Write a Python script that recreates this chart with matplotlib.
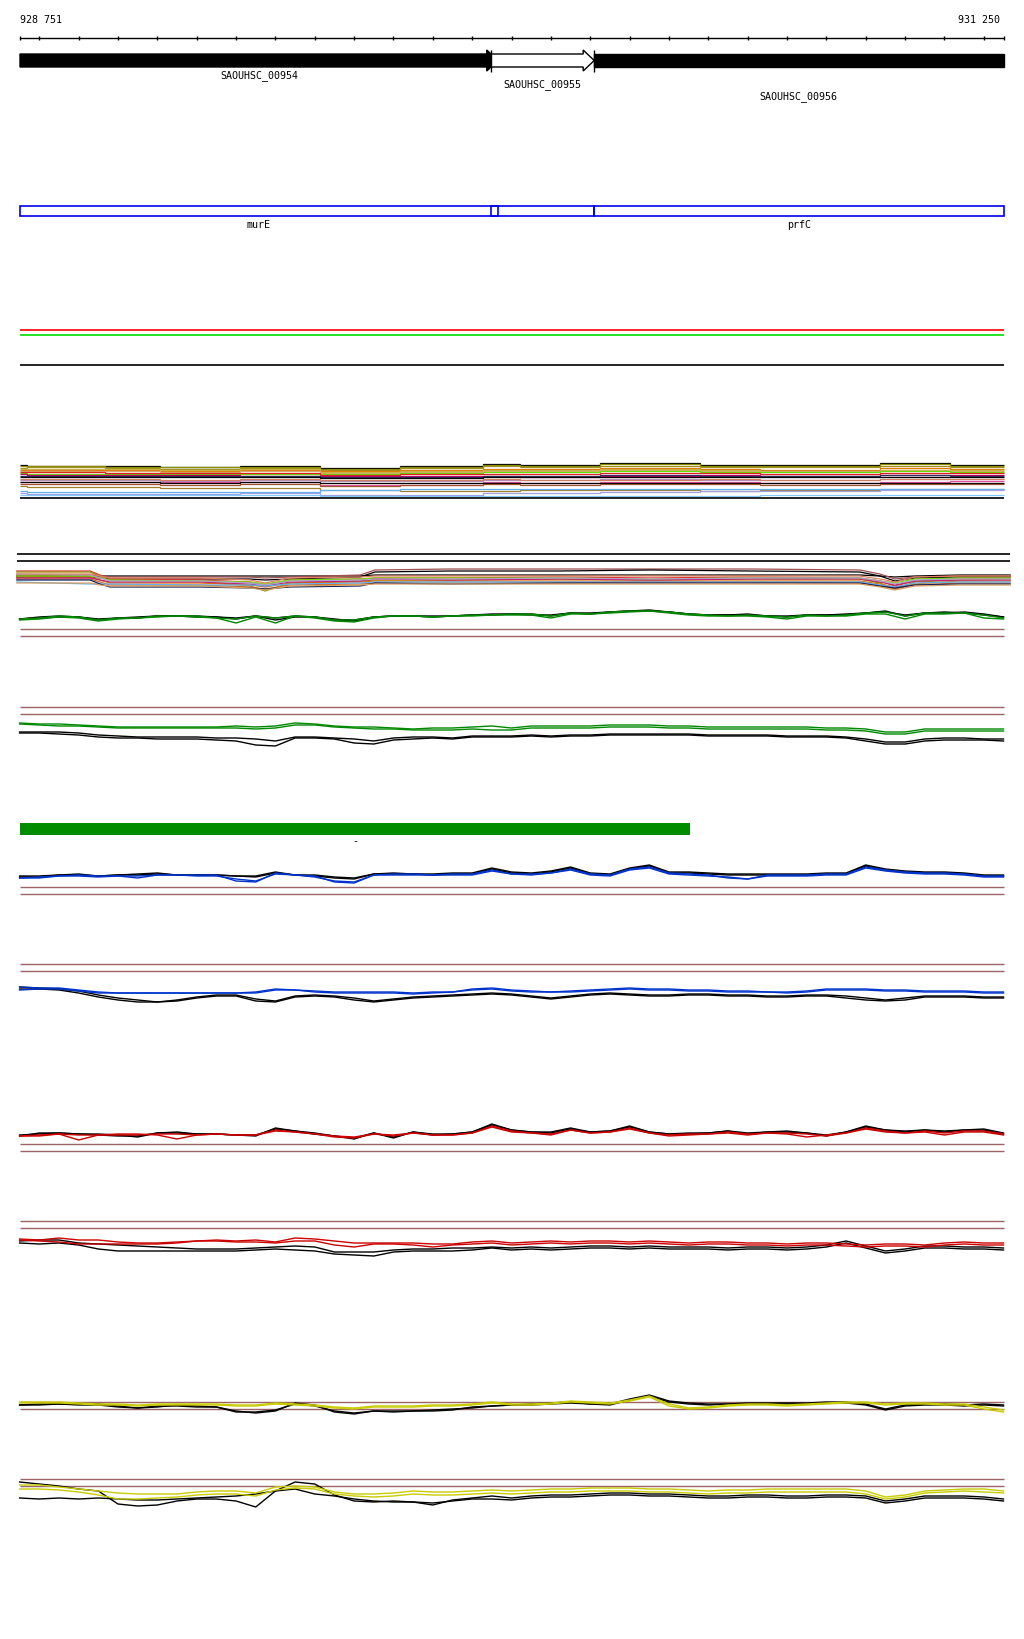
import numpy as np
import matplotlib.pyplot as plt
from matplotlib.patches import Polygon, Rectangle

# visible region
START, END = 928751, 931250

# genes (first starts and last ends outside the window)
gene_names = ['SAOUHSC_00954', 'SAOUHSC_00955', 'SAOUHSC_00956']
gene_starts = [928300, 929948, 930210]
gene_ends = [929965, 930210, 931900]
gene_filled = [True, False, True]
product_names = ['murE', '', 'prfC']

# feature bar
feat_start, feat_end = 928751, 930453
feat_label = '-'

# coverage grid, every 50 bp
pos = np.arange(928750, 931251, 50)

# wiggle tracks: values are pixel heights
c_green1 = [620,619,617,618,621,619,619,617,617,617,619,620,617,619,617,618,621,621,618,617,617,618,617,616,616,
            615,615,617,614,615,613,612,612,613,615,616,617,616,617,618,616,617,616,614,613,617,614,614,614,616,619]
c_green2 = [621,620,618,619,622,620,619,618,617,618,619,624,618,624,617,619,622,623,619,617,617,618,617,617,616,
            616,616,619,615,615,614,613,612,614,616,617,617,617,618,620,617,617,617,615,615,620,615,615,614,619,620]
c_black1 = [620,618,617,618,620,619,619,617,617,617,618,619,617,619,617,618,621,621,618,617,617,618,617,616,616,
            615,615,617,614,615,613,612,611,613,615,616,616,615,617,618,616,616,616,614,612,617,614,614,613,615,618]
c_black2 = [620,619,618,618,621,619,618,617,617,618,618,620,617,621,618,618,620,622,618,617,617,617,617,616,615,
            615,616,616,614,614,613,612,612,613,615,616,616,616,617,617,616,616,615,614,613,616,614,613,614,616,618]

d_green1 = [724,725,725,726,727,728,728,728,728,728,728,727,728,727,724,725,727,728,728,729,730,729,729,728,727,729,
            727,727,727,727,726,726,726,727,727,728,728,728,728,728,728,729,729,730,733,733,730,730,730,730,730]
d_green2 = [725,726,727,727,728,729,729,729,729,729,729,729,730,729,726,726,728,729,730,730,731,731,731,730,731,731,
            729,729,729,729,728,728,728,729,729,730,730,730,730,730,730,731,731,732,735,735,732,732,732,732,732]
d_black1 = [733,733,733,734,736,737,738,738,738,738,739,739,740,742,738,738,739,740,742,739,738,738,739,737,737,737,
            736,737,736,736,735,735,735,735,735,736,736,736,736,737,737,737,738,740,743,743,740,739,739,740,740]
d_black2 = [734,734,735,736,738,739,739,740,740,740,741,742,746,747,739,739,740,744,745,741,740,739,740,738,738,738,
            737,738,737,737,736,736,736,736,736,737,737,737,737,738,738,738,739,742,745,745,742,741,741,741,742]

e_blue1 = [879,878,877,877,878,877,879,876,876,877,877,880,882,875,876,878,882,883,876,876,876,876,876,876,872,
           875,876,874,871,876,877,871,869,875,876,877,878,880,877,877,877,876,876,869,872,874,875,875,876,878,878]
e_blue2 = [879,879,877,876,877,877,877,876,876,876,876,882,883,874,876,877,883,884,876,875,875,876,875,875,871,
           875,875,874,870,875,876,870,868,874,875,876,879,880,876,876,876,875,875,868,871,873,874,874,875,877,877]
e_black1 = [878,878,876,876,877,876,876,875,876,876,876,877,878,874,876,877,879,880,875,875,875,876,875,875,870,
            874,875,873,869,875,876,870,867,874,874,875,876,876,876,876,876,875,875,867,871,873,874,874,875,877,877]
e_black2 = [877,877,876,875,877,876,875,874,876,876,876,877,877,873,876,876,878,879,875,874,875,875,874,874,869,
            873,874,872,868,874,875,869,866,873,873,874,875,875,875,875,875,874,874,866,870,872,873,873,874,876,876]

f_blue1 = [988,989,989,991,993,994,994,994,994,994,994,994,993,990,991,992,993,993,993,993,994,993,993,990,989,991,
           992,993,992,991,990,989,990,990,991,991,992,992,993,993,992,990,990,990,991,991,992,992,992,993,993]
f_blue2 = [991,990,990,992,994,994,994,994,994,994,994,994,994,991,991,993,994,994,994,994,995,994,993,991,990,992,
           993,993,993,992,991,990,991,991,992,992,993,993,993,994,993,991,991,991,992,992,993,993,993,994,994]
f_black1 = [988,989,990,992,996,999,1001,1003,1001,998,996,996,1000,1002,997,996,997,999,1002,1000,998,997,996,995,994,995,
            997,999,997,995,994,995,996,996,995,995,996,996,997,997,996,996,997,999,1001,999,997,997,997,998,998]
f_black2 = [990,990,991,994,998,1001,1003,1003,1002,999,997,997,1002,1003,998,997,998,1001,1003,1001,999,998,997,996,995,996,
            998,1000,998,996,995,996,997,997,996,996,997,997,998,998,997,997,999,1001,1002,1001,998,998,998,999,999]

g_red1 = [1137,1136,1135,1136,1136,1136,1136,1135,1135,1136,1135,1136,1136,1131,1133,1135,1137,1138,1135,1137,1134,1136,1136,1134,1127,
          1132,1134,1135,1131,1134,1133,1129,1134,1136,1135,1135,1133,1135,1134,1134,1135,1137,1134,1129,1132,1134,1132,1134,1132,1132,1135]
g_red2 = [1137,1137,1135,1141,1136,1135,1135,1136,1140,1136,1135,1136,1136,1132,1133,1135,1138,1139,1135,1136,1134,1136,1136,1134,1128,
          1133,1134,1136,1131,1134,1133,1130,1134,1137,1136,1135,1134,1136,1134,1135,1138,1136,1134,1130,1133,1134,1133,1136,1133,1133,1136]
g_black1 = [1136,1135,1134,1135,1136,1137,1137,1134,1133,1135,1135,1136,1136,1130,1132,1134,1137,1140,1134,1139,1133,1136,1135,1133,1126,
            1131,1133,1134,1130,1133,1132,1128,1133,1135,1134,1134,1132,1134,1133,1132,1134,1137,1133,1128,1131,1133,1131,1133,1131,1130,1134]
g_black2 = [1137,1134,1134,1135,1135,1136,1138,1134,1134,1135,1135,1136,1137,1129,1132,1135,1137,1139,1134,1138,1133,1135,1135,1133,1125,
            1131,1133,1133,1129,1133,1132,1127,1133,1135,1135,1134,1132,1135,1133,1133,1134,1136,1133,1127,1131,1132,1131,1132,1131,1131,1135]

h_red1 = [1240,1241,1239,1241,1241,1243,1244,1244,1243,1242,1241,1242,1241,1243,1239,1240,1242,1244,1244,1244,1244,1245,1245,1243,1242,1244,
          1243,1242,1243,1242,1242,1243,1242,1243,1244,1243,1243,1244,1244,1245,1244,1244,1245,1246,1245,1245,1246,1244,1243,1244,1244]
h_red2 = [1241,1242,1243,1245,1245,1245,1245,1245,1244,1242,1242,1243,1243,1244,1242,1242,1246,1248,1245,1245,1246,1248,1246,1245,1244,1246,
          1245,1244,1245,1244,1244,1245,1244,1245,1246,1245,1245,1246,1246,1247,1246,1246,1247,1248,1247,1247,1248,1246,1245,1246,1246]
h_black1 = [1242,1241,1241,1244,1245,1246,1247,1248,1249,1250,1250,1250,1249,1248,1247,1248,1253,1253,1253,1251,1250,1250,1249,1249,1248,1249,
            1248,1249,1248,1247,1247,1248,1247,1248,1248,1248,1249,1248,1248,1249,1248,1246,1242,1247,1252,1250,1247,1247,1248,1248,1249]
h_black2 = [1244,1245,1244,1246,1250,1252,1252,1252,1252,1252,1252,1252,1251,1250,1251,1252,1255,1256,1257,1253,1252,1252,1252,1251,1249,1251,
            1250,1251,1250,1249,1249,1250,1249,1250,1250,1250,1251,1250,1250,1251,1250,1248,1244,1249,1254,1252,1249,1249,1250,1250,1251]

i_yel1 = [1403,1403,1403,1404,1405,1405,1406,1405,1405,1405,1405,1406,1406,1404,1405,1406,1408,1409,1407,1407,1407,1406,1406,1405,1403,
          1405,1405,1404,1402,1403,1404,1401,1397,1405,1409,1408,1406,1405,1405,1406,1405,1404,1403,1403,1405,1404,1404,1405,1405,1408,1411]
i_yel2 = [1404,1404,1404,1405,1406,1406,1407,1406,1406,1406,1406,1407,1407,1405,1406,1407,1409,1410,1408,1408,1408,1407,1407,1406,1404,
          1406,1406,1405,1403,1404,1405,1402,1398,1407,1410,1409,1407,1406,1406,1407,1406,1405,1404,1404,1406,1405,1405,1406,1406,1410,1413]
i_black1 = [1406,1405,1405,1405,1405,1407,1409,1408,1406,1407,1408,1412,1414,1412,1404,1406,1413,1415,1412,1412,1412,1412,1411,1408,1407,
            1406,1405,1404,1403,1405,1405,1400,1396,1402,1404,1405,1405,1404,1404,1404,1404,1403,1403,1405,1410,1406,1405,1405,1406,1405,1406]
i_black2 = [1406,1406,1405,1406,1406,1408,1409,1407,1407,1408,1408,1413,1413,1411,1405,1407,1412,1414,1412,1413,1412,1411,1410,1409,1407,
            1406,1406,1405,1404,1405,1406,1401,1397,1403,1405,1406,1405,1405,1405,1405,1405,1404,1404,1406,1411,1407,1406,1406,1407,1406,1407]

j_yel1 = [1486,1486,1488,1490,1492,1494,1495,1495,1495,1493,1492,1492,1494,1488,1487,1488,1493,1495,1495,1494,1492,1493,1493,1492,1491,1492,
          1491,1490,1490,1489,1489,1489,1490,1490,1491,1492,1491,1491,1490,1490,1490,1490,1490,1492,1498,1496,1492,1491,1490,1490,1492]
j_yel2 = [1490,1490,1491,1493,1496,1500,1500,1499,1498,1496,1495,1495,1497,1491,1489,1490,1495,1497,1498,1497,1495,1496,1496,1495,1494,1495,
          1494,1493,1493,1492,1492,1492,1493,1493,1494,1495,1494,1494,1493,1493,1493,1493,1493,1495,1500,1498,1494,1493,1492,1493,1494]
j_black1 = [1483,1485,1487,1490,1492,1505,1507,1506,1502,1500,1500,1502,1508,1492,1483,1485,1496,1502,1503,1502,1503,1506,1501,1499,1497,1499,
            1497,1496,1496,1495,1494,1494,1495,1495,1496,1497,1497,1496,1496,1497,1497,1496,1496,1497,1502,1500,1497,1497,1497,1498,1500]
j_black2 = [1499,1500,1499,1500,1499,1500,1501,1501,1500,1499,1498,1497,1495,1492,1490,1495,1497,1500,1502,1503,1503,1504,1502,1500,1500,1501,
            1499,1498,1498,1497,1496,1496,1497,1497,1498,1499,1499,1498,1498,1499,1499,1498,1498,1499,1504,1502,1499,1499,1499,1500,1502]

# band of many samples, step levels between breakpoints
band_a_breaks = [928751, 928769, 928967, 929107, 929310, 929513, 929717, 929927,
                 930021, 930225, 930479, 930631, 930936, 931114, 931250]
band_a_colors = ['black', '#8c8c00', '#a09020', '#e07800', '#c8b040', '#d8a870', '#60e000',
                 '#e02020', '#c00060', '#303060', 'black', '#b090c0', '#d08060', '#e050a0',
                 'black', '#a0522d', '#a08030', '#60b0f0', '#a0a0e0', '#80c8ff']
band_a_levels = [
    [466,467,467,468,467,469,467,465,466,464,466,466,464,466],
    [467,467,468,468,468,470,468,466,467,465,467,467,465,467],
    [469,468,469,470,469,471,469,467,468,467,468,468,467,468],
    [471,471,471,472,471,472,471,470,470,469,470,471,469,470],
    [470,470,470,471,470,473,472,471,471,470,471,472,471,471],
    [472,472,472,473,472,474,473,472,472,471,472,472,471,472],
    [474,475,475,475,475,475,474,473,473,472,473,473,472,473],
    [473,473,474,474,474,476,475,475,475,474,474,475,474,474],
    [475,476,476,476,477,477,477,477,478,477,476,477,476,476],
    [477,477,477,477,477,478,478,477,477,476,477,477,476,477],
    [478,478,478,478,478,479,479,478,478,478,478,478,478,478],
    [481,481,481,482,481,482,482,481,481,480,481,481,480,480],
    [480,480,480,481,480,481,481,480,481,481,480,481,480,480],
    [483,483,483,483,483,486,486,483,484,483,483,484,483,482],
    [483,483,483,484,483,484,484,484,484,484,484,484,484,484],
    [485,485,485,486,485,487,486,485,486,485,485,486,485,485],
    [487,488,488,489,489,491,492,492,491,491,492,491,490,490],
    [492,493,493,493,493,491,490,490,490,490,490,490,490,490],
    [494,495,495,495,494,496,496,494,494,493,492,492,491,491],
    [496,496,496,496,496,497,497,497,497,497,497,496,496,496],
]

band_b_pos = [928743, 928929, 928954, 928980, 929208, 929335, 929374, 929437, 929615, 929653,
              929844, 930123, 930352, 930606, 930885, 930936, 930974, 931025, 931139, 931267]
band_b_colors = ['black', '#a05050', 'black', '#e03030', '#909000', '#e07000', '#d2691e',
                 '#70e000', '#c02070', '#b0a0d0', '#60b0f0', '#102060', '#d8a060', '#e08060']
band_b_levels = [
    [577,577,577,577,577,577,577,577,577,576,576,576,576,576,576,577,578,577,576,576],
    [576,576,577,578,578,578,579,578,576,571,570,570,570,570,571,575,580,578,577,577],
    [578,578,579,580,580,580,581,580,578,573,572,572,571,572,573,577,582,579,578,578],
    [572,572,576,580,581,583,586,581,580,579,579,578,579,578,579,582,587,582,579,579],
    [573,573,577,582,582,587,592,584,582,581,581,580,581,580,580,584,590,583,581,580],
    [578,578,581,584,584,586,588,584,583,582,582,582,582,582,582,585,588,585,582,582],
    [580,580,583,586,586,588,590,586,585,584,584,584,583,583,584,587,590,586,584,584],
    [577,577,579,581,582,583,585,581,580,579,579,579,580,579,579,582,584,580,579,579],
    [579,579,581,583,583,585,587,583,582,580,581,580,581,580,580,583,586,582,581,581],
    [575,576,579,582,582,584,586,582,581,580,580,579,580,579,579,582,585,581,580,580],
    [583,585,585,585,586,586,587,585,584,583,583,583,583,583,583,586,588,584,583,583],
    [581,581,585,588,588,589,590,588,587,584,585,584,584,584,584,587,589,586,585,585],
    [584,584,586,587,587,589,591,587,586,585,585,585,585,585,585,588,591,587,586,586],
    [575,575,577,579,579,581,584,579,578,577,577,577,577,577,577,580,583,578,577,577],
]

BROWN = '#9c6464'
LW = 1.0

fig = plt.figure(figsize=(10.24, 16.4), dpi=100)
ax = fig.add_axes([0, 0, 1, 1])
px = 983.5 / (END - START)          # pixels per bp
ax.set_xlim(START - 20 / px, END + 20.5 / px)
ax.set_ylim(1640, 0)
ax.axis('off')

mono = dict(family='DejaVu Sans Mono', fontsize=7.2)

# ruler
ax.text(START, 20, f'{START:,}'.replace(',', ' '), ha='left', va='center', **mono)
ax.text(END - 3 / px, 20, f'{END:,}'.replace(',', ' '), ha='right', va='center', **mono)
ax.hlines(38.5, START, END, color='black', lw=LW)
ticks = [START] + list(range(928800, END, 100)) + [END]
ax.vlines(ticks, 36.5, 40.5, color='black', lw=LW)

# gene arrows
head = 28
label_y = [76, 85, 97]
for name, s, e, filled, ly in zip(gene_names, gene_starts, gene_ends, gene_filled, label_y):
    s0, e0 = max(s, START), min(e, END)
    if e <= END:
        verts = [(s0, 55), (e - head, 55), (e - head, 51), (e, 61.5),
                 (e - head, 72), (e - head, 68), (s0, 68)]
    else:
        verts = [(s0, 55), (e0, 55), (e0, 68), (s0, 68)]
    ax.add_patch(Polygon(verts, closed=True, facecolor='black' if filled else 'white',
                         edgecolor='black', lw=LW, joinstyle='miter'))
    if s >= START:
        ax.vlines(s, 50.5, 72.5, color='black', lw=LW)
    ax.text((s0 + e0) / 2, ly, name, ha='center', va='center', **mono)

# product boxes
for name, s, e in zip(product_names, gene_starts, gene_ends):
    s0, e0 = max(s, START), min(e, END)
    ax.add_patch(Rectangle((s0, 207), e0 - s0, 10, facecolor='none',
                           edgecolor='#0000ee', lw=1.2))
    if name:
        ax.text((s0 + e0) / 2, 225, name, ha='center', va='center', **mono)

ax.hlines(331, START, END, color='#ff0000', lw=1.2)
ax.hlines(336, START, END, color='#00dd00', lw=1.2)
ax.hlines(366, START, END, color='black', lw=1.2)

# sample band A
for col, lev in zip(band_a_colors, band_a_levels):
    ax.stairs(lev, band_a_breaks, baseline=None, color=col, lw=0.9)
ax.hlines(499, START, END, color='black', lw=1.2)

# sample band B
ax.hlines([555, 562], band_b_pos[0], band_b_pos[-1], color='black', lw=1.2)
for col, lev in zip(band_b_colors, band_b_levels):
    ax.plot(band_b_pos, lev, color=col, lw=0.9)

# wiggle tracks
tracks = [
    ([630, 637], '#008800', [c_green1, c_green2], [c_black1, c_black2]),
    ([708, 715], '#008800', [d_green1, d_green2], [d_black1, d_black2]),
    ([888, 895], '#0033cc', [e_blue1, e_blue2], [e_black1, e_black2]),
    ([965, 972], '#0033cc', [f_blue1, f_blue2], [f_black1, f_black2]),
    ([1145, 1152], '#cc0000', [g_red1, g_red2], [g_black1, g_black2]),
    ([1222, 1229], '#cc0000', [h_red1, h_red2], [h_black1, h_black2]),
    ([1403, 1410], '#c8cc00', [i_yel1, i_yel2], [i_black1, i_black2]),
    ([1480, 1487], '#c8cc00', [j_yel1, j_yel2], [j_black1, j_black2]),
]
for lines_y, col, colored, blacks in tracks:
    ax.hlines(lines_y, START, END, color=BROWN, lw=LW)
    for b in blacks:
        ax.plot(pos, b, color='black', lw=LW)
    for c in colored:
        ax.plot(pos, c, color=col, lw=LW)

# feature bar
ax.add_patch(Rectangle((feat_start, 824), feat_end - feat_start, 12,
                       facecolor='#008c00', edgecolor='none'))
ax.text((feat_start + feat_end) / 2, 841, feat_label, ha='center', va='center', **mono)

fig.savefig('out.png', dpi=100)
